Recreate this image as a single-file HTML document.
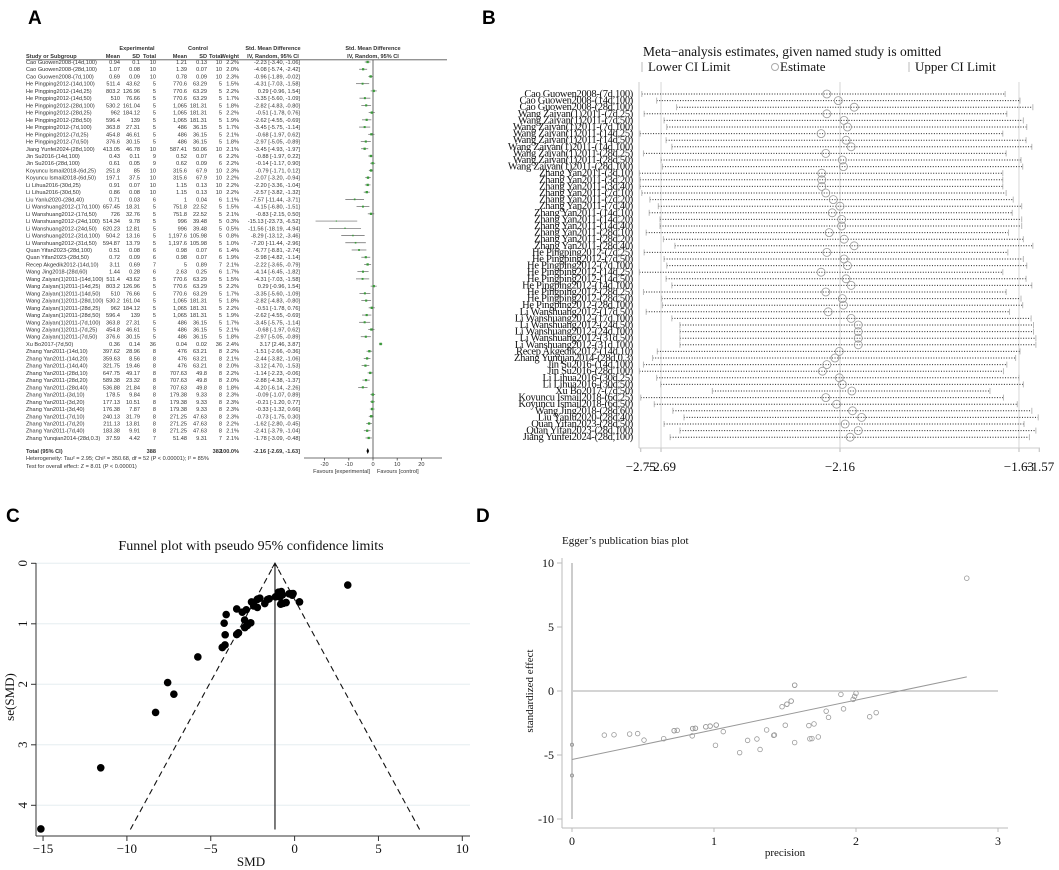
<!DOCTYPE html>
<html><head><meta charset="utf-8">
<style>
html,body{margin:0;padding:0;background:#fff;}
svg{display:block;}
.a{font-family:"Liberation Sans",sans-serif;font-size:5.6px;fill:#333;}
.ab{font-family:"Liberation Sans",sans-serif;font-size:5.6px;fill:#333;font-weight:bold;}
.s{font-family:"Liberation Serif",serif;fill:#111;}
.lbl{font-family:"Liberation Sans",sans-serif;font-weight:bold;font-size:19px;fill:#000;}
</style></head>
<body>
<svg id="fig" width="1059" height="870" viewBox="0 0 1059 870" xmlns="http://www.w3.org/2000/svg">
<text class="lbl" x="28" y="24">A</text>
<text class="lbl" x="482" y="24">B</text>
<text class="lbl" x="6" y="522">C</text>
<text class="lbl" x="476" y="522">D</text>
<g id="pa"></g>
<g id="pb"></g>
<g id="pc"></g>
<g id="pd"></g>
</svg>
<script>
// ---------- Panel A data ----------
const studies = ["Cao Guowen2008-(14d,100)","Cao Guowen2008-(28d,100)","Cao Guowen2008-(7d,100)","He Pingping2012-(14d,100)","He Pingping2012-(14d,25)","He Pingping2012-(14d,50)","He Pingping2012-(28d,100)","He Pingping2012-(28d,25)","He Pingping2012-(28d,50)","He Pingping2012-(7d,100)","He Pingping2012-(7d,25)","He Pingping2012-(7d,50)","Jiang Yunfei2024-(28d,100)","Jin Su2016-(14d,100)","Jin Su2016-(28d,100)","Koyuncu Ismail2018-(6d,25)","Koyuncu Ismail2018-(6d,50)","Li Lihua2016-(30d,25)","Li Lihua2016-(30d,50)","Liu Yanlu2020-(28d,40)","Li Wanshuang2012-(17d,100)","Li Wanshuang2012-(17d,50)","Li Wanshuang2012-(24d,100)","Li Wanshuang2012-(24d,50)","Li Wanshuang2012-(31d,100)","Li Wanshuang2012-(31d,50)","Quan Yifan2023-(28d,100)","Quan Yifan2023-(28d,50)","Recep Akgedik2012-(14d,10)","Wang Jing2018-(28d,60)","Wang Zaiyan(1)2011-(14d,100)","Wang Zaiyan(1)2011-(14d,25)","Wang Zaiyan(1)2011-(14d,50)","Wang Zaiyan(1)2011-(28d,100)","Wang Zaiyan(1)2011-(28d,25)","Wang Zaiyan(1)2011-(28d,50)","Wang Zaiyan(1)2011-(7d,100)","Wang Zaiyan(1)2011-(7d,25)","Wang Zaiyan(1)2011-(7d,50)","Xu Bo2017-(7d,50)","Zhang Yan2011-(14d,10)","Zhang Yan2011-(14d,20)","Zhang Yan2011-(14d,40)","Zhang Yan2011-(28d,10)","Zhang Yan2011-(28d,20)","Zhang Yan2011-(28d,40)","Zhang Yan2011-(3d,10)","Zhang Yan2011-(3d,20)","Zhang Yan2011-(3d,40)","Zhang Yan2011-(7d,10)","Zhang Yan2011-(7d,20)","Zhang Yan2011-(7d,40)","Zhang Yunqian2014-(28d,0.3)"];
const expMean = ["0.94","1.07","0.69","511.4","803.2","510","530.2","962","596.4","363.8","454.8","376.6","413.05","0.43","0.61","251.8","197.1","0.91","0.86","0.71","657.45","726","514.34","620.23","504.2","594.87","0.51","0.72","3.11","1.44","511.4","803.2","510","530.2","962","596.4","363.8","454.8","376.6","0.36","397.62","359.63","321.75","647.75","589.38","536.88","178.5","177.13","176.38","240.13","211.13","183.38","37.59"];
const expSD = ["0.1","0.08","0.09","43.62","126.96","76.66","161.04","184.12","139","27.31","46.61","30.15","46.78","0.11","0.05","85","37.5","0.07","0.08","0.03","18.31","32.76","9.78","12.81","13.16","13.79","0.08","0.09","0.69","0.28","43.62","126.96","76.66","161.04","184.12","139","27.31","46.61","30.15","0.14","28.96","8.56","19.46","49.17","23.32","21.84","9.84","10.51","7.87","31.79","13.81","9.91","4.42"];
const expN = [10,10,10,5,5,5,5,5,5,5,5,5,10,9,9,10,10,10,10,6,5,5,5,5,5,5,6,6,7,6,5,5,5,5,5,5,5,5,5,36,8,8,8,8,8,8,8,8,8,8,8,8,7];
const ctlMean = ["1.21","1.39","0.78","770.6","770.6","770.6","1,065","1,065","1,065","486","486","486","587.41","0.52","0.62","315.6","315.6","1.15","1.15","1","751.8","751.8","996","996","1,197.6","1,197.6","0.98","0.98","5","2.63","770.6","770.6","770.6","1,065","1,065","1,065","486","486","486","0.04","476","476","476","707.63","707.63","707.63","179.38","179.38","179.38","271.25","271.25","271.25","51.48"];
const ctlSD = ["0.13","0.07","0.09","63.29","63.29","63.29","181.31","181.31","181.31","36.15","36.15","36.15","50.06","0.07","0.09","67.9","67.9","0.13","0.13","0.04","22.52","22.52","39.48","39.48","105.98","105.98","0.07","0.07","0.89","0.25","63.29","63.29","63.29","181.31","181.31","181.31","36.15","36.15","36.15","0.02","63.21","63.21","63.21","49.8","49.8","49.8","9.33","9.33","9.33","47.63","47.63","47.63","9.31"];
const ctlN = [10,10,10,5,5,5,5,5,5,5,5,5,10,6,6,10,10,10,10,6,5,5,5,5,5,5,6,6,7,6,5,5,5,5,5,5,5,5,5,36,8,8,8,8,8,8,8,8,8,8,8,8,7];
const weights = [2.2,2.0,2.3,1.5,2.2,1.7,1.8,2.2,1.9,1.7,2.1,1.8,2.1,2.2,2.2,2.3,2.2,2.2,2.2,1.1,1.5,2.1,0.3,0.5,0.8,1.0,1.4,1.9,2.1,1.7,1.5,2.2,1.7,1.8,2.2,1.9,1.7,2.1,1.8,2.4,2.2,2.1,2.0,2.2,2.0,1.8,2.3,2.3,2.3,2.3,2.2,2.1,2.1];
const smd = [-2.23,-4.08,-0.96,-4.31,0.29,-3.35,-2.82,-0.51,-2.62,-3.45,-0.68,-2.97,-3.45,-0.88,-0.14,-0.79,-2.07,-2.20,-2.57,-7.57,-4.15,-0.83,-15.13,-11.56,-8.29,-7.20,-5.77,-2.98,-2.22,-4.14,-4.31,0.29,-3.35,-2.82,-0.51,-2.62,-3.45,-0.68,-2.97,3.17,-1.51,-2.44,-3.12,-1.14,-2.88,-4.20,-0.09,-0.21,-0.33,-0.73,-1.62,-2.41,-1.78];
const ciLow = [-3.40,-5.74,-1.89,-7.03,-0.96,-5.60,-4.83,-1.78,-4.55,-5.75,-1.97,-5.05,-4.93,-1.97,-1.17,-1.71,-3.20,-3.36,-3.82,-11.44,-6.80,-2.15,-23.73,-18.19,-13.12,-11.44,-8.81,-4.82,-3.65,-6.45,-7.03,-0.96,-5.60,-4.83,-1.78,-4.55,-5.75,-1.97,-5.05,2.46,-2.66,-3.82,-4.70,-2.23,-4.38,-6.14,-1.07,-1.20,-1.32,-1.75,-2.80,-3.79,-3.09];
const ciHigh = [-1.06,-2.42,-0.02,-1.58,1.54,-1.09,-0.80,0.76,-0.69,-1.14,0.62,-0.89,-1.97,0.22,0.90,0.12,-0.94,-1.04,-1.32,-3.71,-1.51,0.50,-6.52,-4.94,-3.46,-2.96,-2.74,-1.14,-0.79,-1.82,-1.58,1.54,-1.09,-0.80,0.76,-0.69,-1.14,0.62,-0.89,3.87,-0.36,-1.06,-1.53,-0.06,-1.37,-2.26,0.89,0.77,0.66,0.30,-0.45,-1.04,-0.48];
const pooled = [-2.16,-2.69,-1.63];
const forestTicks = [-20,-10,0,10,20];

// ---------- Panel B data ----------
const omitNames = ["Cao Guowen2008-(7d,100)","Cao Guowen2008-(14d,100)","Cao Guowen2008-(28d,100)","Wang Zaiyan(1)2011-(7d,25)","Wang Zaiyan(1)2011-(7d,50)","Wang Zaiyan(1)2011-(7d,100)","Wang Zaiyan(1)2011-(14d,25)","Wang Zaiyan(1)2011-(14d,50)","Wang Zaiyan(1)2011-(14d,100)","Wang Zaiyan(1)2011-(28d,25)","Wang Zaiyan(1)2011-(28d,50)","Wang Zaiyan(1)2011-(28d,100)","Zhang Yan2011-(3d,10)","Zhang Yan2011-(3d,20)","Zhang Yan2011-(3d,40)","Zhang Yan2011-(7d,10)","Zhang Yan2011-(7d,20)","Zhang Yan2011-(7d,40)","Zhang Yan2011-(14d,10)","Zhang Yan2011-(14d,20)","Zhang Yan2011-(14d,40)","Zhang Yan2011-(28d,10)","Zhang Yan2011-(28d,20)","Zhang Yan2011-(28d,40)","He Pingping2012-(7d,25)","He Pingping2012-(7d,50)","He Pingping2012-(7d,100)","He Pingping2012-(14d,25)","He Pingping2012-(14d,50)","He Pingping2012-(14d,100)","He Pingping2012-(28d,25)","He Pingping2012-(28d,50)","He Pingping2012-(28d,100)","Li Wanshuang2012-(17d,50)","Li Wanshuang2012-(17d,100)","Li Wanshuang2012-(24d,50)","Li Wanshuang2012-(24d,100)","Li Wanshuang2012-(31d,50)","Li Wanshuang2012-(31d,100)","Recep Akgedik2012-(14d,10)","Zhang Yunqian2014-(28d,0.3)","Jin Su2016-(14d,100)","Jin Su2016-(28d,100)","Li Lihua2016-(30d,25)","Li Lihua2016-(30d,50)","Xu Bo2017-(7d,50)","Koyuncu Ismail2018-(6d,25)","Koyuncu Ismail2018-(6d,50)","Wang Jing2018-(28d,60)","Liu Yanlu2020-(28d,40)","Quan Yifan2023-(28d,50)","Quan Yifan2023-(28d,100)","Jiang Yunfei2024-(28d,100)"];
const omitEst = [-2.199,-2.165,-2.118,-2.199,-2.148,-2.138,-2.216,-2.142,-2.127,-2.202,-2.153,-2.150,-2.214,-2.214,-2.214,-2.202,-2.180,-2.160,-2.183,-2.155,-2.155,-2.192,-2.148,-2.118,-2.199,-2.148,-2.138,-2.216,-2.142,-2.127,-2.202,-2.153,-2.150,-2.195,-2.127,-2.106,-2.106,-2.106,-2.106,-2.162,-2.175,-2.199,-2.212,-2.162,-2.153,-2.125,-2.202,-2.170,-2.123,-2.096,-2.145,-2.106,-2.130];
const omitLow = [-2.747,-2.703,-2.644,-2.740,-2.681,-2.673,-2.752,-2.675,-2.658,-2.742,-2.690,-2.686,-2.754,-2.752,-2.752,-2.747,-2.723,-2.698,-2.725,-2.693,-2.693,-2.734,-2.683,-2.649,-2.740,-2.681,-2.673,-2.754,-2.675,-2.658,-2.742,-2.688,-2.686,-2.734,-2.658,-2.634,-2.634,-2.634,-2.634,-2.701,-2.715,-2.742,-2.754,-2.703,-2.691,-2.538,-2.750,-2.710,-2.655,-2.622,-2.681,-2.634,-2.663];
const omitHigh = [-1.671,-1.627,-1.589,-1.666,-1.617,-1.607,-1.678,-1.609,-1.592,-1.668,-1.624,-1.619,-1.678,-1.678,-1.678,-1.668,-1.647,-1.622,-1.650,-1.622,-1.622,-1.661,-1.617,-1.589,-1.663,-1.617,-1.607,-1.678,-1.609,-1.592,-1.668,-1.624,-1.619,-1.658,-1.594,-1.587,-1.587,-1.580,-1.580,-1.627,-1.640,-1.666,-1.676,-1.630,-1.617,-1.716,-1.676,-1.635,-1.592,-1.573,-1.615,-1.580,-1.599];
const omitTicks = [-2.75,-2.69,-2.16,-1.63,-1.57];
const omitTickLabels = ["\u22122.75","\u22122.69","\u22122.16","\u22121.63","\u22121.57"];

// ---------- Panel C/D data ----------
const funnelCenter = [-1.17];
const funnelXTicks = [-15,-10,-5,0,5,10];
const funnelYTicks = [0,1,2,3,4];
const eggerXTicks = [0,1,2,3];
const eggerYTicks = [10,5,0,-5,-10];
const eggerFit = [-5.35, 2.32];
const eggerZeroPts = [-4.2,-6.6];

const NS="http://www.w3.org/2000/svg";
function mk(parent,tag,attrs,txt){const e=document.createElementNS(NS,tag);for(const k in attrs)e.setAttribute(k,attrs[k]);if(txt!==undefined)e.textContent=txt;parent.appendChild(e);return e;}
const fx=v=>v.toFixed(2);
const seOf=i=>(ciHigh[i]-ciLow[i])/3.92;

// ===== Panel A =====
(function(){
const g=document.getElementById('pa');
const xA=v=>373+v*2.42, yA=i=>62+i*7.23;
let t;
t=mk(g,'text',{class:'ab',x:137,y:50,'text-anchor':'middle'},'Experimental');

t=mk(g,'text',{class:'ab',x:198,y:50,'text-anchor':'middle'},'Control');

t=mk(g,'text',{class:'ab',x:273,y:50,'text-anchor':'middle'},'Std. Mean Difference');

t=mk(g,'text',{class:'ab',x:273,y:58,'text-anchor':'middle'},'IV, Random, 95% CI');

t=mk(g,'text',{class:'ab',x:373,y:50,'text-anchor':'middle'},'Std. Mean Difference');

t=mk(g,'text',{class:'ab',x:373,y:58,'text-anchor':'middle'},'IV, Random, 95% CI');

t=mk(g,'text',{class:'ab',x:26,y:58},'Study or Subgroup');

const cols=[[120,'Mean'],[140,'SD'],[156,'Total'],[187,'Mean'],[207,'SD'],[222,'Total'],[239,'Weight']];
cols.forEach(c=>{const h=mk(g,'text',{class:'ab',x:c[0],y:58,'text-anchor':'end'},c[1]);
});
let l=mk(g,'line',{x1:26,x2:447,y1:59.8,y2:59.8,stroke:'#555','stroke-width':0.8});

l=mk(g,'line',{x1:373,x2:373,y1:60,y2:458,stroke:'#444','stroke-width':0.8});

for(let i=0;i<studies.length;i++){
 const y=yA(i)+2;
 const row=mk(g,'g',{});
 
 mk(row,'text',{class:'a',x:26,y:y},studies[i]);
 const vals=[expMean[i],expSD[i],expN[i],ctlMean[i],ctlSD[i],ctlN[i],weights[i].toFixed(1)+'%'];
 vals.forEach((v,k)=>mk(row,'text',{class:'a',x:cols[k][0],y:y,'text-anchor':'end'},String(v)));
 mk(row,'text',{class:'a',x:300,y:y,'text-anchor':'end'},fx(smd[i])+' ['+fx(ciLow[i])+', '+fx(ciHigh[i])+']');
 const ci=mk(g,'line',{x1:xA(ciLow[i]),x2:xA(ciHigh[i]),y1:yA(i),y2:yA(i),stroke:'#666','stroke-width':0.7});
 
 const s=1+weights[i]*0.6;
 const sq=mk(g,'rect',{x:xA(smd[i])-s/2,y:yA(i)-s/2,width:s,height:s,fill:'#3a9a3a'});
 
}
const ty=451;
t=mk(g,'text',{class:'ab',x:26,y:ty+2},'Total (95% CI)');

const sumE=expN.reduce((a,b)=>a+b,0), sumC=ctlN.reduce((a,b)=>a+b,0);
[[156,sumE],[222,sumC],[239,'100.0%'],[300,fx(pooled[0])+' ['+fx(pooled[1])+', '+fx(pooled[2])+']']].forEach(v=>{
 const tt=mk(g,'text',{class:'ab',x:v[0],y:ty+2,'text-anchor':'end'},String(v[1]));
 });
const dm=mk(g,'polygon',{points:`${xA(pooled[1])},${ty} ${xA(pooled[0])},${ty-3} ${xA(pooled[2])},${ty} ${xA(pooled[0])},${ty+3}`,fill:'#000'});

t=mk(g,'text',{class:'a',x:26,y:460},'Heterogeneity: Tau\u00b2 = 2.95; Chi\u00b2 = 350.68, df = 52 (P < 0.00001); I\u00b2 = 85%');

t=mk(g,'text',{class:'a',x:26,y:468},'Test for overall effect: Z = 8.01 (P < 0.00001)');

l=mk(g,'line',{x1:304,x2:442,y1:458,y2:458,stroke:'#444','stroke-width':0.8});

forestTicks.forEach(v=>{mk(g,'line',{x1:xA(v),x2:xA(v),y1:458,y2:460.5,stroke:'#444','stroke-width':0.8});
 const tt=mk(g,'text',{class:'a',x:xA(v),y:466,'text-anchor':'middle'},String(v));
 });
t=mk(g,'text',{class:'a',x:370,y:473,'text-anchor':'end'},'Favours [experimental]');

t=mk(g,'text',{class:'a',x:377,y:473},'Favours [control]');

})();

// ===== Panel B =====
(function(){
const g=document.getElementById('pb');
const xB=v=>840+(v+2.16)*337.7, yB=i=>94+i*6.6;
let t=mk(g,'text',{class:'s',x:643,y:56,'font-size':13.5},'Meta\u2212analysis estimates, given named study is omitted');

mk(g,'line',{x1:642,x2:642,y1:62,y2:72,stroke:'#bbb'});
t=mk(g,'text',{class:'s',x:648,y:71,'font-size':13},'Lower CI Limit');

mk(g,'circle',{cx:775,cy:67,r:3.5,fill:'none',stroke:'#aaa'});
t=mk(g,'text',{class:'s',x:780,y:71,'font-size':13},'Estimate');

mk(g,'line',{x1:909,x2:909,y1:62,y2:72,stroke:'#bbb'});
t=mk(g,'text',{class:'s',x:915,y:71,'font-size':13},'Upper CI Limit');

omitTicks.forEach((v,k)=>{
 if(k>0&&k<4){const gl=mk(g,'line',{x1:xB(v),x2:xB(v),y1:82,y2:448,stroke:'#ccc','stroke-width':0.8});
  }
 mk(g,'line',{x1:xB(v),x2:xB(v),y1:448,y2:452,stroke:'#bbb'});
 const tl=mk(g,'text',{class:'s',x:xB(v),y:471,'font-size':13,'text-anchor':'middle'},omitTickLabels[k]);
 
});
let l=mk(g,'line',{x1:639,x2:639,y1:82,y2:448,stroke:'#ccc'});

l=mk(g,'line',{x1:639,x2:1040,y1:448,y2:448,stroke:'#ccc'});

for(let i=0;i<omitNames.length;i++){
 const y=yB(i);
 const nm=mk(g,'text',{class:'s',x:633,y:y+3,'font-size':10.5,'text-anchor':'end','letter-spacing':'-0.3'},omitNames[i]);
 
 const dl=mk(g,'line',{x1:xB(omitLow[i]),x2:xB(omitHigh[i]),y1:y,y2:y,stroke:'#222','stroke-width':1,'stroke-dasharray':'1,1.6'});
 
 const lt=mk(g,'line',{x1:xB(omitLow[i]),x2:xB(omitLow[i]),y1:y-3,y2:y+3,stroke:'#bbb'});
 
 const ut=mk(g,'line',{x1:xB(omitHigh[i]),x2:xB(omitHigh[i]),y1:y-3,y2:y+3,stroke:'#bbb'});
 
 const c=mk(g,'circle',{cx:xB(omitEst[i]),cy:y,r:4,fill:'none',stroke:'#999','stroke-width':0.8});
 
}
})();

// ===== Panel C =====
(function(){
const g=document.getElementById('pc');
const xC=v=>294.6+v*16.77, yC=s=>563.3+s*60.5;
let t=mk(g,'text',{class:'s',x:251,y:550,'font-size':14,'text-anchor':'middle'},'Funnel plot with pseudo 95% confidence limits');

funnelYTicks.forEach(s=>{
 const gl=mk(g,'line',{x1:36,x2:470,y1:yC(s),y2:yC(s),stroke:'#e6eef0'});
 
 mk(g,'line',{x1:31,x2:36,y1:yC(s),y2:yC(s),stroke:'#333'});
 const tl=mk(g,'text',{class:'s',x:0,y:0,'font-size':13,'text-anchor':'middle',transform:`translate(27,${yC(s)}) rotate(-90)`},String(s));
 
});
funnelXTicks.forEach(v=>{
 mk(g,'line',{x1:xC(v),x2:xC(v),y1:836,y2:841,stroke:'#333'});
 const tl=mk(g,'text',{class:'s',x:xC(v),y:853,'font-size':13,'text-anchor':'middle'},v<0?'\u2212'+(-v):String(v));
 
});
let l=mk(g,'line',{x1:36,x2:36,y1:563,y2:836,stroke:'#333'});

l=mk(g,'line',{x1:36,x2:470,y1:836,y2:836,stroke:'#333'});

t=mk(g,'text',{class:'s',x:0,y:0,'font-size':13,'text-anchor':'middle',transform:'translate(14,697) rotate(-90)'},'se(SMD)');

t=mk(g,'text',{class:'s',x:251,y:866,'font-size':13,'text-anchor':'middle'},'SMD');

const c0=funnelCenter[0], smax=4.4;
l=mk(g,'polyline',{points:`${xC(c0-1.96*smax)},${yC(smax)} ${xC(c0)},${yC(0)} ${xC(c0+1.96*smax)},${yC(smax)}`,fill:'none',stroke:'#111','stroke-dasharray':'6,4','stroke-width':1.1});

l=mk(g,'line',{x1:xC(c0),x2:xC(c0),y1:yC(0),y2:yC(smax),stroke:'#111','stroke-width':1.1});

mk(g,'polyline',{points:`${xC(c0)-3},${yC(0)+5} ${xC(c0)},${yC(0)} ${xC(c0)+3},${yC(0)+5}`,fill:'none',stroke:'#111'});
for(let i=0;i<smd.length;i++){
 const p=mk(g,'circle',{cx:xC(smd[i]),cy:yC(seOf(i)),r:3.8,fill:'#000'});
 
}
})();

// ===== Panel D =====
(function(){
const g=document.getElementById('pd');
const xD=p=>572+p*142, yD=e=>691-e*12.8;
let t=mk(g,'text',{class:'s',x:562,y:544,'font-size':11},'Egger\u2019s publication bias plot');

eggerYTicks.forEach(v=>{
 mk(g,'line',{x1:557,x2:562,y1:yD(v),y2:yD(v),stroke:'#bbb'});
 const tl=mk(g,'text',{class:'s',x:554,y:yD(v)+4,'font-size':12,'text-anchor':'end'},v<0?'-'+(-v):String(v));
 
});
eggerXTicks.forEach(v=>{
 mk(g,'line',{x1:xD(v),x2:xD(v),y1:828,y2:832,stroke:'#bbb'});
 const tl=mk(g,'text',{class:'s',x:xD(v),y:845,'font-size':12,'text-anchor':'middle'},String(v));
 
});
let l=mk(g,'line',{x1:562,x2:562,y1:558,y2:828,stroke:'#bbb'});

l=mk(g,'line',{x1:562,x2:1008,y1:828,y2:828,stroke:'#bbb'});

t=mk(g,'text',{class:'s',x:0,y:0,'font-size':11,'text-anchor':'middle',transform:'translate(533,691) rotate(-90)'},'standardized effect');

t=mk(g,'text',{class:'s',x:785,y:856,'font-size':11,'text-anchor':'middle'},'precision');

l=mk(g,'line',{x1:xD(0),x2:xD(3),y1:yD(0),y2:yD(0),stroke:'#aaa'});

l=mk(g,'line',{x1:xD(0),x2:xD(0),y1:yD(10),y2:yD(-10),stroke:'#ccc','stroke-width':2});

eggerZeroPts.forEach(v=>{const c=mk(g,'circle',{cx:xD(0),cy:yD(v),r:1.5,fill:'none',stroke:'#999'});
 });
let pmax=0;
for(let i=0;i<smd.length;i++){
 const se=seOf(i), pr=1/se, z=smd[i]/se; if(pr>pmax)pmax=pr;
 const c=mk(g,'circle',{cx:xD(pr),cy:yD(z),r:2.3,fill:'none',stroke:'#999','stroke-width':0.8});
 
}
l=mk(g,'line',{x1:xD(0),x2:xD(pmax),y1:yD(eggerFit[0]),y2:yD(eggerFit[0]+eggerFit[1]*pmax),stroke:'#999'});

})();
</script>
</body></html>
